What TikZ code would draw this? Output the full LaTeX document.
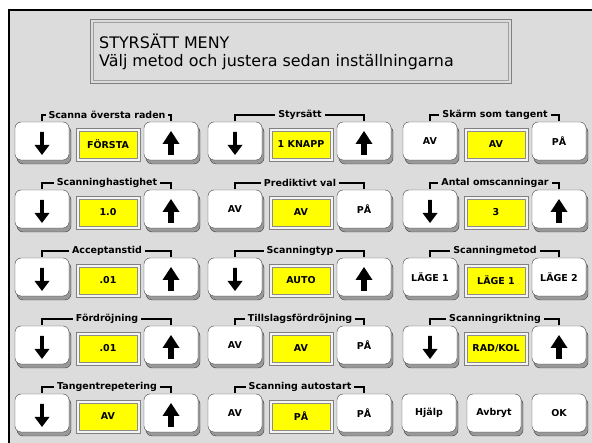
\documentclass[tikz,border=0pt]{standalone}
\usepackage{fontspec}
\setmainfont{DejaVu Sans}
\usetikzlibrary{shadows}
\definecolor{panelgray}{RGB}{220,220,220}
\definecolor{framegray}{RGB}{128,128,128}
\definecolor{valyellow}{RGB}{255,255,0}
\def\lblfont{\fontsize{9.5}{11}\selectfont\bfseries}
\tikzset{
	btn/.style={draw=black!75, fill=white, rounded corners=6pt, minimum width=54pt, minimum height=38pt, inner sep=0pt, font=\lblfont,
		drop shadow={shadow xshift=2pt, shadow yshift=-4pt, fill=black!40, draw=black!75, opacity=1}},
	valbox/.style={draw=framegray, fill=white!70!panelgray, minimum width=64pt, minimum height=33pt, inner sep=0pt},
	valfill/.style={draw=black!45, fill=valyellow, minimum width=58pt, minimum height=27pt, inner sep=0pt, font=\lblfont},
	grplbl/.style={fill=panelgray, inner xsep=3pt, inner ysep=1pt, font=\lblfont},
	bracket/.style={draw=black, line width=1.3pt},
}
% #1 name, #2 left x, #3 top y, #4 label, #5 left key, #6 value, #7 right key
\newcommand{\setting}[7]{%
	\node[btn] (#1-dn) at (#2+27, #3+19) {#5};
	\node[valbox] (#1-box) at (#2+93, #3+22.5) {};
	\node[valfill] (#1-val) at (#1-box) {#6};
	\node[btn] (#1-up) at (#2+156, #3+19) {#7};
	\coordinate (#1-lc) at (#2+92, #3-7);
	\draw[bracket] ([yshift=1pt]#1-dn.north) |- (#1-lc) -| ([yshift=1pt]#1-up.north);
	\node[grplbl] (#1-lbl) at (#1-lc) {#4};
}
\newcommand{\arrdn}[1]{\fill[shift={(#1.center)}] (-1.8,-9) -- (1.8,-9) -- (1.8,4) -- (7.5,4) -- (0,14) -- (-7.5,4) -- (-1.8,4) -- cycle;}
\newcommand{\arrup}[1]{\fill[shift={(#1.center)}] (0,-10) -- (8.5,3) -- (2.8,3) -- (2.8,14) -- (-2.8,14) -- (-2.8,3) -- (-8.5,3) -- cycle;}

\begin{document}
\begin{tikzpicture}[x=1pt, y=-1pt]
	\useasboundingbox (0,0) rectangle (592,443);
	%%%%% PANEL %%%%%
	\fill[panelgray] (9,10) rectangle (592,443);
	\draw[line width=1.2pt] (9,443) -- (9,10) -- (592,10);
	
	\draw[framegray] (90,19) rectangle (511,83);
	\draw[framegray!75] (93,22) rectangle (508,80);
	\node[anchor=base west, inner sep=0pt, font=\fontsize{15.9}{18}\selectfont] (title-a) at (99,49) {STYRSÄTT MENY};
	\node[anchor=base west, inner sep=0pt, font=\fontsize{15.9}{18}\selectfont] (title-b) at (99,67) {Välj metod och justera sedan inställningarna};
	
	%%%%% ROW 1 %%%%%
	\setting{firstrow}{15}{122}{Scanna översta raden}{}{FÖRSTA}{}
	\arrdn{firstrow-dn} \arrup{firstrow-up}
	\setting{method}{208}{122}{Styrsätt}{}{1 KNAPP}{}
	\arrdn{method-dn} \arrup{method-up}
	\setting{screenkey}{403}{122}{Skärm som tangent}{AV}{AV}{PÅ}
	
	%%%%% ROW 2 %%%%%
	\setting{speed}{15}{190}{Scanninghastighet}{}{1.0}{}
	\arrdn{speed-dn} \arrup{speed-up}
	\setting{predict}{208}{190}{Prediktivt val}{AV}{AV}{PÅ}
	\setting{rescan}{403}{190}{Antal omscanningar}{}{3}{}
	\arrdn{rescan-dn} \arrup{rescan-up}
	
	%%%%% ROW 3 %%%%%
	\setting{accept}{15}{258}{Acceptanstid}{}{.01}{}
	\arrdn{accept-dn} \arrup{accept-up}
	\setting{scantype}{208}{258}{Scanningtyp}{}{AUTO}{}
	\arrdn{scantype-dn} \arrup{scantype-up}
	\setting{scanmode}{403}{258}{Scanningmetod}{LÄGE 1}{LÄGE 1}{LÄGE 2}
	
	%%%%% ROW 4 %%%%%
	\setting{delay}{15}{326}{Fördröjning}{}{.01}{}
	\arrdn{delay-dn} \arrup{delay-up}
	\setting{onsetdelay}{208}{326}{Tillslagsfördröjning}{AV}{AV}{PÅ}
	\setting{scandir}{403}{326}{Scanningriktning}{}{RAD/KOL}{}
	\arrdn{scandir-dn} \arrup{scandir-up}
	
	%%%%% ROW 5 %%%%%
	\setting{repeat}{15}{394}{Tangentrepetering}{}{AV}{}
	\arrdn{repeat-dn} \arrup{repeat-up}
	\setting{autostart}{208}{394}{Scanning autostart}{AV}{PÅ}{PÅ}
	\node[btn] (help) at (402+27, 394+19) {Hjälp};
	\node[btn] (cancel) at (402+92, 394+19) {Avbryt};
	\node[btn] (ok) at (402+157, 394+19) {OK};
\end{tikzpicture}
\end{document}
